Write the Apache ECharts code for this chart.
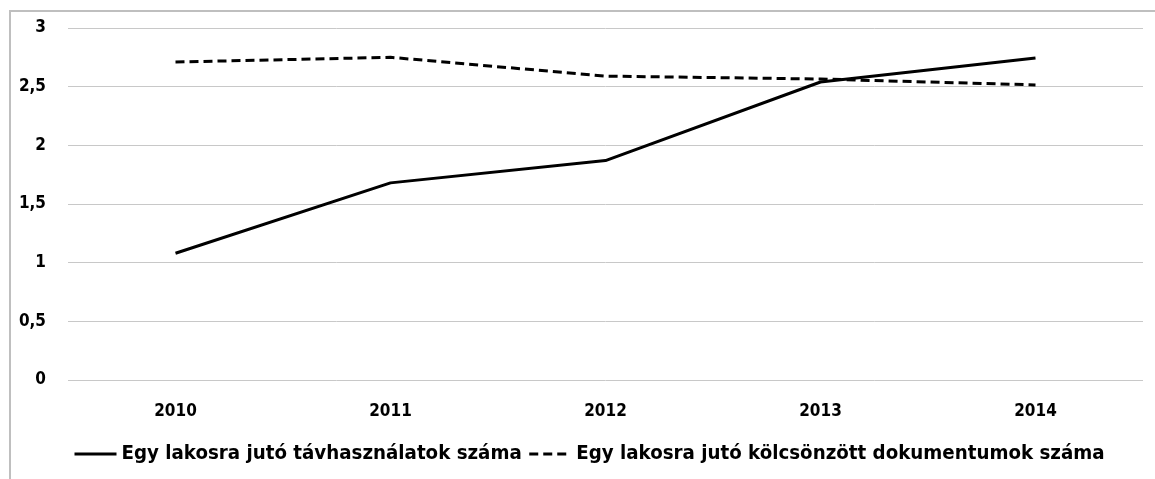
<!DOCTYPE html>
<html>
<head>
<meta charset="utf-8">
<script src="https://cdn.jsdelivr.net/npm/echarts@6/dist/echarts.min.js"></script>
<style>
  html, body { margin: 0; padding: 0; background: #fff; }
  #chart { width: 1155px; height: 479px; }
</style>
</head>
<body>
<div id="chart"></div>
<script>
const years = ["2010", "2011", "2012", "2013", "2014"];
const tavhasznalat = [1.08, 1.68, 1.87, 2.54, 2.745];
const kolcsonzott = [2.71, 2.75, 2.59, 2.565, 2.515];
const seriesNames = [
  "Egy lakosra jutó távhasználatok száma",
  "Egy lakosra jutó kölcsönzött dokumentumok száma",
];

const font = '"Liberation Sans Narrow", "DejaVu Sans Condensed", sans-serif';

const chart = echarts.init(document.getElementById("chart"));
chart.setOption({
  animation: false,
  textStyle: { fontFamily: font },
  graphic: [
    {
      type: "rect",
      shape: { x: 10, y: 11, width: 1200, height: 520 },
      style: { fill: "none", stroke: "#bfbfbf", lineWidth: 2 },
    },
  ],
  legend: {
    bottom: 10,
    left: 68,
    itemWidth: 42,
    itemHeight: 10,
    itemGap: 6,
    itemStyle: { opacity: 0 },
    lineStyle: { width: 3 },
    textStyle: { fontSize: 20.3, fontWeight: "bold", color: "#000", fontFamily: font },
    data: seriesNames,
  },
  grid: { left: 68, right: 12, top: 28, bottom: 99 },
  xAxis: {
    type: "category",
    data: years,
    axisLine: { show: false },
    axisTick: { show: false },
    axisLabel: {
      color: "#000",
      fontSize: 17,
      fontWeight: "bold",
      margin: 23,
      fontFamily: font,
    },
  },
  yAxis: {
    type: "value",
    min: 0,
    max: 3,
    interval: 0.5,
    axisLine: { show: false },
    axisTick: { show: false },
    axisLabel: {
      color: "#000",
      fontSize: 17,
      fontWeight: "bold",
      margin: 22,
      fontFamily: font,
      formatter: (v) => String(v).replace(".", ","),
    },
    splitLine: { lineStyle: { color: "#c8c8c8", width: 1 } },
  },
  series: [
    {
      name: seriesNames[0],
      type: "line",
      data: tavhasznalat,
      symbol: "none",
      lineStyle: { color: "#000", width: 3, type: "solid" },
      itemStyle: { color: "#000" },
    },
    {
      name: seriesNames[1],
      type: "line",
      data: kolcsonzott,
      symbol: "none",
      lineStyle: { color: "#000", width: 3, type: [9, 5] },
      itemStyle: { color: "#000" },
    },
  ],
});
</script>
</body>
</html>
